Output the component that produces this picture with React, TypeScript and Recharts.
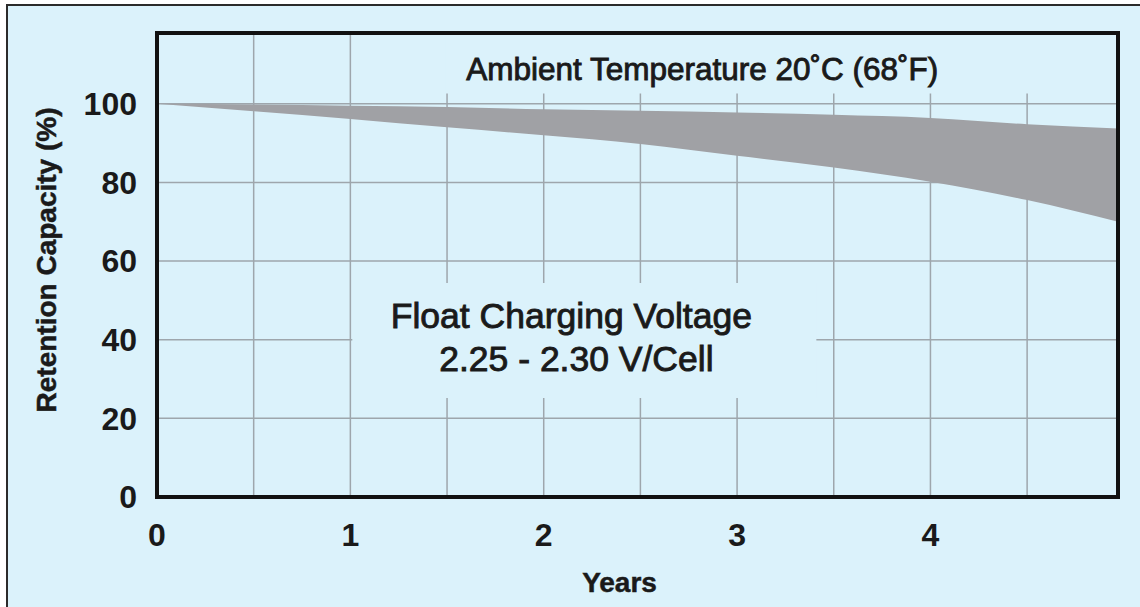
import React from 'react';
import {
  Area,
  CartesianGrid,
  ComposedChart,
  ReferenceArea,
  ReferenceDot,
  XAxis,
  YAxis,
} from 'recharts';

// capacity band (upper / lower edge of the grey area)
const years = [0, 0.5, 1, 1.5, 2, 2.5, 3, 3.5, 4, 4.5, 4.97];
const upperCapacity = [100, 99.8, 99.5, 99.2, 98.6, 98.2, 97.8, 97.2, 96.4, 94.8, 93.7];
const lowerCapacity = [100, 98.1, 96.1, 94.0, 92.0, 89.8, 86.8, 83.8, 80.2, 75.5, 70.0];

const xTicks = [0, 0.5, 1, 1.5, 2, 2.5, 3, 3.5, 4, 4.5];
const yTicks = [0, 20, 40, 60, 80, 100];

const titleText = 'Ambient Temperature 20˚C (68˚F)';
const noteLines = ['Float Charging Voltage', '2.25 - 2.30 V/Cell'];

const data = years.map((year, i) => ({
  year,
  range: [lowerCapacity[i], upperCapacity[i]],
}));

const BG = '#dbf2fb';
const INK = '#1a1a1a';
const FONT = '"Liberation Sans", Arial, Helvetica, sans-serif';

const textStyle = {
  fill: INK,
  stroke: INK,
  strokeWidth: 0.9,
  fontFamily: FONT,
};

export default function App() {
  return (
    <div
      style={{
        position: 'absolute',
        left: 0,
        top: 0,
        width: 1140,
        height: 607,
        overflow: 'hidden',
        fontFamily: FONT,
      }}
    >
      <div
        style={{
          position: 'absolute',
          left: 6,
          top: 4,
          width: 1140,
          height: 640,
          border: '2px solid #2b2b2b',
          background: BG,
        }}
      />
      <div style={{ position: 'absolute', left: 0, top: 0 }}>
        <ComposedChart
          width={1140}
          height={607}
          data={data}
          margin={{ top: 33, right: 22, bottom: 70, left: 97 }}
        >
          <CartesianGrid stroke="#9ea6ac" strokeWidth={1.5} />
          <XAxis
            dataKey="year"
            type="number"
            domain={[0, 4.97]}
            ticks={xTicks}
            tickFormatter={(v: number) => (Number.isInteger(v) ? String(v) : '')}
            axisLine={false}
            tickLine={false}
            tickSize={0}
            tickMargin={26}
            height={40}
            tick={{ fill: INK, fontSize: 32, fontWeight: 'bold', fontFamily: FONT }}
            label={{
              content: (props: any) => {
                const vb = props.viewBox;
                return (
                  <text
                    x={vb.x + vb.width / 2 - 18}
                    y={vb.y + 95}
                    textAnchor="middle"
                    fill={INK}
                    stroke={INK}
                    strokeWidth={0.5}
                    fontSize={28}
                    fontWeight="bold"
                    fontFamily={FONT}
                  >
                    Years
                  </text>
                );
              },
            }}
          />
          <YAxis
            type="number"
            domain={[0, 118]}
            ticks={yTicks}
            axisLine={false}
            tickLine={false}
            tickSize={0}
            tickMargin={20}
            width={60}
            tick={{ fill: INK, fontSize: 32, fontWeight: 'bold', fontFamily: FONT }}
            label={{
              content: (props: any) => {
                const vb = props.viewBox;
                const cx = vb.x - 51;
                const cy = vb.y + vb.height / 2 - 5;
                return (
                  <text
                    x={cx}
                    y={cy}
                    transform={`rotate(-90 ${cx} ${cy})`}
                    textAnchor="middle"
                    dominantBaseline="central"
                    fill={INK}
                    stroke={INK}
                    strokeWidth={0.5}
                    fontSize={28}
                    fontWeight="bold"
                    fontFamily={FONT}
                  >
                    Retention Capacity (%)
                  </text>
                );
              },
            }}
          />
          {/* backgrounds behind the text annotations hide the grid */}
          <ReferenceArea x1={1.49} x2={4.97} y1={102.6} y2={118} fill={BG} fillOpacity={1} stroke="none" />
          <ReferenceArea x1={1.01} x2={3.41} y1={25.2} y2={54.4} fill={BG} fillOpacity={1} stroke="none" />
          <Area
            dataKey="range"
            type="monotone"
            stroke="none"
            fill="#a0a1a5"
            fillOpacity={1}
            isAnimationActive={false}
          />
          <ReferenceArea
            x1={0}
            x2={4.97}
            y1={0}
            y2={118}
            fill="none"
            stroke="#111"
            strokeWidth={4}
          />
          <ReferenceDot
            x={2.82}
            y={108.8}
            r={0}
            fill="none"
            stroke="none"
            label={{ value: titleText, position: 'center', fontSize: 31.5, ...textStyle }}
          />
          <ReferenceDot
            x={2.143}
            y={46.3}
            r={0}
            fill="none"
            stroke="none"
            label={{ value: noteLines[0], position: 'center', fontSize: 35.5, ...textStyle }}
          />
          <ReferenceDot
            x={2.169}
            y={35.3}
            r={0}
            fill="none"
            stroke="none"
            label={{ value: noteLines[1], position: 'center', fontSize: 35.5, ...textStyle }}
          />
        </ComposedChart>
      </div>
    </div>
  );
}
